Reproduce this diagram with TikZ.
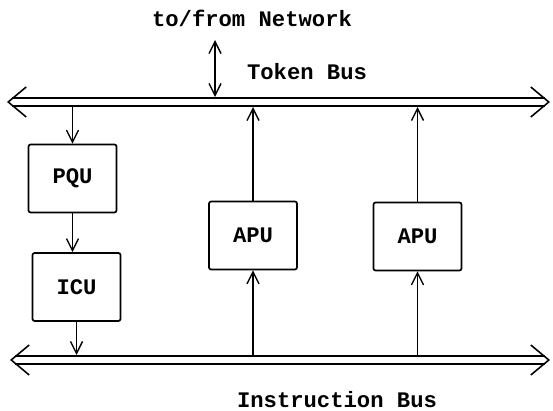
\documentclass[tikz,border=0pt]{standalone}
\usepackage{fontspec}
\setmonofont{Liberation Mono}
\usetikzlibrary{arrows.meta,positioning}

\begin{document}
\begin{tikzpicture}[
    unit/.style={rectangle, draw=black, line width=1.2pt, rounded corners=1.5pt, minimum width=2.2cm, minimum height=1.7cm, inner sep=0pt, font=\ttfamily\bfseries\fontsize{15.8}{18}\selectfont},
    buslabel/.style={font=\ttfamily\bfseries\fontsize{15.8}{18}\selectfont, anchor=base, inner sep=0pt},
    bus/.style={double, double distance=4.5pt, line width=1.1pt, shorten <=1.3mm, shorten >=1.3mm},
    busends/.style={white, line width=0.5pt, {Straight Barb[black,line width=1.1pt,length=4.5mm,width=7.5mm]}-{Straight Barb[black,line width=1.1pt,length=4.5mm,width=7.5mm]}},
    link/.style={line width=1pt, -{Straight Barb[line width=1pt,length=3mm,width=3mm]}},
    netlink/.style={line width=1pt, {Straight Barb[line width=1pt,length=3mm,width=3mm]}-{Straight Barb[line width=1pt,length=3mm,width=3mm]}}
]
\useasboundingbox (0,0) rectangle (13.825,10.275);
% buses
\coordinate (tbL) at (0.175,7.725);
\coordinate (tbR) at (13.75,7.725);
\coordinate (ibL) at (0.25,1.275);
\coordinate (ibR) at (13.75,1.275);
\coordinate (tbtop) at (0,7.85);
\coordinate (tbbot) at (0,7.6);
\coordinate (ibtop) at (0,1.4);
\draw[bus] (tbL) -- (tbR);
\draw[busends] (tbL) -- (tbR);
\draw[bus] (ibL) -- (ibR);
\draw[busends] (ibL) -- (ibR);
\node[buslabel] (tblabel) at (7.675,8.275) {Token Bus};
\node[buslabel] (iblabel) at (8.425,0.075) {Instruction Bus};
% network port
\coordinate (net) at (5.375,9.275);
\node[buslabel] (netlabel) at (6.3,9.6) {to/from Network};
\draw[netlink] (net) -- (net |- tbtop);
% processing units
\node[unit] (pqu) at (1.8125,5.8125) {PQU};
\node[unit] (icu) at (1.9125,3.1) {ICU};
\node[unit] (apu1) at (6.325,4.3875) {APU};
\node[unit] (apu2) at (10.4375,4.3625) {APU};
% connections
\draw[link] (pqu.north |- tbbot) -- (pqu.north);
\draw[link] (pqu.south) -- (pqu.south |- icu.north);
\draw[link] (icu.south) -- (icu.south |- ibtop);
\draw[link] (apu1.north) -- (apu1.north |- tbbot);
\draw[link] (apu2.north) -- (apu2.north |- tbbot);
\draw[link] (apu1.south |- ibtop) -- (apu1.south);
\draw[link] (apu2.south |- ibtop) -- (apu2.south);
\end{tikzpicture}
\end{document}
